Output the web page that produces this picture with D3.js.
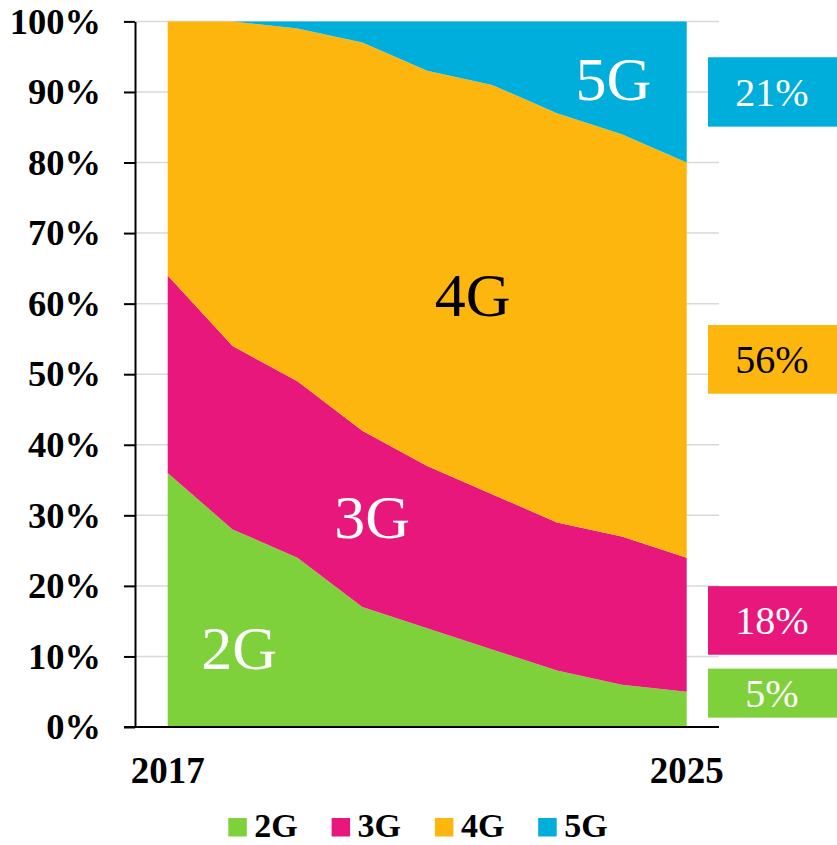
<!DOCTYPE html>
<html>
<head>
<meta charset="utf-8">
<script src="https://cdn.jsdelivr.net/npm/d3@7"></script>
<style>
  body { margin: 0; background: #fff; }
  svg { display: block; font-family: "Liberation Serif", "Times New Roman", serif; }
</style>
</head>
<body>
<div id="chart"></div>
<script>
// data (share of subscriptions, %)
var years = [2017, 2018, 2019, 2020, 2021, 2022, 2023, 2024, 2025];
var g2 = [36, 28, 24, 17, 14, 11, 8, 6, 5];
var g3 = [28, 26, 25, 25, 23, 22, 21, 21, 19];
var g4 = [36, 46, 50, 55, 56, 58, 58, 57, 56];
var g5 = [0, 0, 1, 3, 7, 9, 13, 16, 20];
var seriesNames = ["2G", "3G", "4G", "5G"];
var endLabels = ["5%", "18%", "56%", "21%"];
var yTicks = [0, 10, 20, 30, 40, 50, 60, 70, 80, 90, 100];
var xTicks = [2017, 2025];

var colors = ["#7fd13b", "#e8177b", "#fdb60d", "#00aedc"];
var inTextColor = ["#fff", "#fff", "#000", "#fff"];
var boxTextColor = ["#fff", "#fff", "#000", "#fff"];

var width = 837, height = 845;

var svg = d3.select("#chart").append("svg")
  .attr("width", width)
  .attr("height", height);

var x = d3.scaleLinear().domain([2017, 2025]).range([167.7, 686.7]);
var y = d3.scaleLinear().domain([0, 100]).range([727, 21.4]);

var rows = years.map(function(yr, i) {
  return { year: yr, "2G": g2[i], "3G": g3[i], "4G": g4[i], "5G": g5[i] };
});
var stacked = d3.stack().keys(seriesNames)(rows);

// grid
svg.append("g").selectAll("line")
  .data(yTicks.filter(function(d){ return d > 0; }))
  .enter().append("line")
  .attr("x1", 135).attr("x2", 719)
  .attr("y1", function(d){ return y(d); })
  .attr("y2", function(d){ return y(d); })
  .attr("stroke", "#d9d9d9")
  .attr("stroke-width", 1.5);

// areas
var area = d3.area()
  .x(function(d){ return x(d.data.year); })
  .y0(function(d){ return y(d[0]); })
  .y1(function(d){ return y(d[1]); });

svg.append("g").selectAll("path")
  .data(stacked)
  .enter().append("path")
  .attr("d", area)
  .attr("fill", function(d, i){ return colors[i]; });

// y axis
var yAxis = d3.axisLeft(y).tickValues(yTicks).tickSize(11).tickSizeOuter(0)
  .tickFormat(function(d){ return d + "%"; });
var gy = svg.append("g").attr("transform", "translate(135,0)").call(yAxis);
gy.select(".domain").attr("stroke", "#000").attr("stroke-width", 2);
gy.selectAll(".tick line").attr("stroke", "#000").attr("stroke-width", 2);
gy.selectAll(".tick text")
  .attr("x", -34)
  .attr("font-family", "Liberation Serif, Times New Roman, serif")
  .attr("font-size", 36.5).attr("font-weight", "bold").attr("fill", "#000");

// x axis
svg.append("line")
  .attr("x1", 124).attr("x2", 719)
  .attr("y1", y(0)).attr("y2", y(0))
  .attr("stroke", "#000").attr("stroke-width", 2);
svg.append("g").selectAll("text")
  .data(xTicks)
  .enter().append("text")
  .attr("x", function(d){ return x(d); })
  .attr("y", 783)
  .attr("text-anchor", "middle")
  .attr("font-size", 37).attr("font-weight", "bold")
  .text(function(d){ return d; });

// labels inside the areas
var inLabels = [
  { name: "2G", yr: 2018.1, v: 8.2 },
  { name: "3G", yr: 2020.15, v: 26.8 },
  { name: "4G", yr: 2021.7, v: 58.2 },
  { name: "5G", yr: 2023.87, v: 88.9 }
];
svg.append("g").selectAll("text")
  .data(inLabels)
  .enter().append("text")
  .attr("x", function(d){ return x(d.yr); })
  .attr("y", function(d){ return y(d.v); })
  .attr("text-anchor", "middle")
  .attr("font-size", 62)
  .attr("fill", function(d, i){ return inTextColor[i]; })
  .text(function(d){ return d.name; });

// end value boxes on the right
var boxes = [
  { center: 4.8, h: 49 },
  { center: 15.1, h: 68.6 },
  { center: 52.1, h: 68.7 },
  { center: 90.0, h: 69.4 }
];
var gb = svg.append("g").selectAll("g")
  .data(boxes)
  .enter().append("g");
gb.append("rect")
  .attr("x", 708).attr("width", 129)
  .attr("y", function(d){ return y(d.center) - d.h / 2; })
  .attr("height", function(d){ return d.h; })
  .attr("fill", function(d, i){ return colors[i]; });
gb.append("text")
  .attr("x", 772)
  .attr("y", function(d){ return y(d.center) + 14; })
  .attr("text-anchor", "middle")
  .attr("font-size", 40)
  .attr("fill", function(d, i){ return boxTextColor[i]; })
  .text(function(d, i){ return endLabels[i]; });

// legend
var lg = svg.append("g").selectAll("g")
  .data(seriesNames)
  .enter().append("g")
  .attr("transform", function(d, i){ return "translate(" + (228.3 + i * 103.3) + ",818)"; });
lg.append("rect")
  .attr("width", 18.5).attr("height", 18.5)
  .attr("fill", function(d, i){ return colors[i]; });
lg.append("text")
  .attr("x", 26).attr("y", 19)
  .attr("font-size", 34).attr("font-weight", "bold")
  .text(function(d){ return d; });
</script>
</body>
</html>
